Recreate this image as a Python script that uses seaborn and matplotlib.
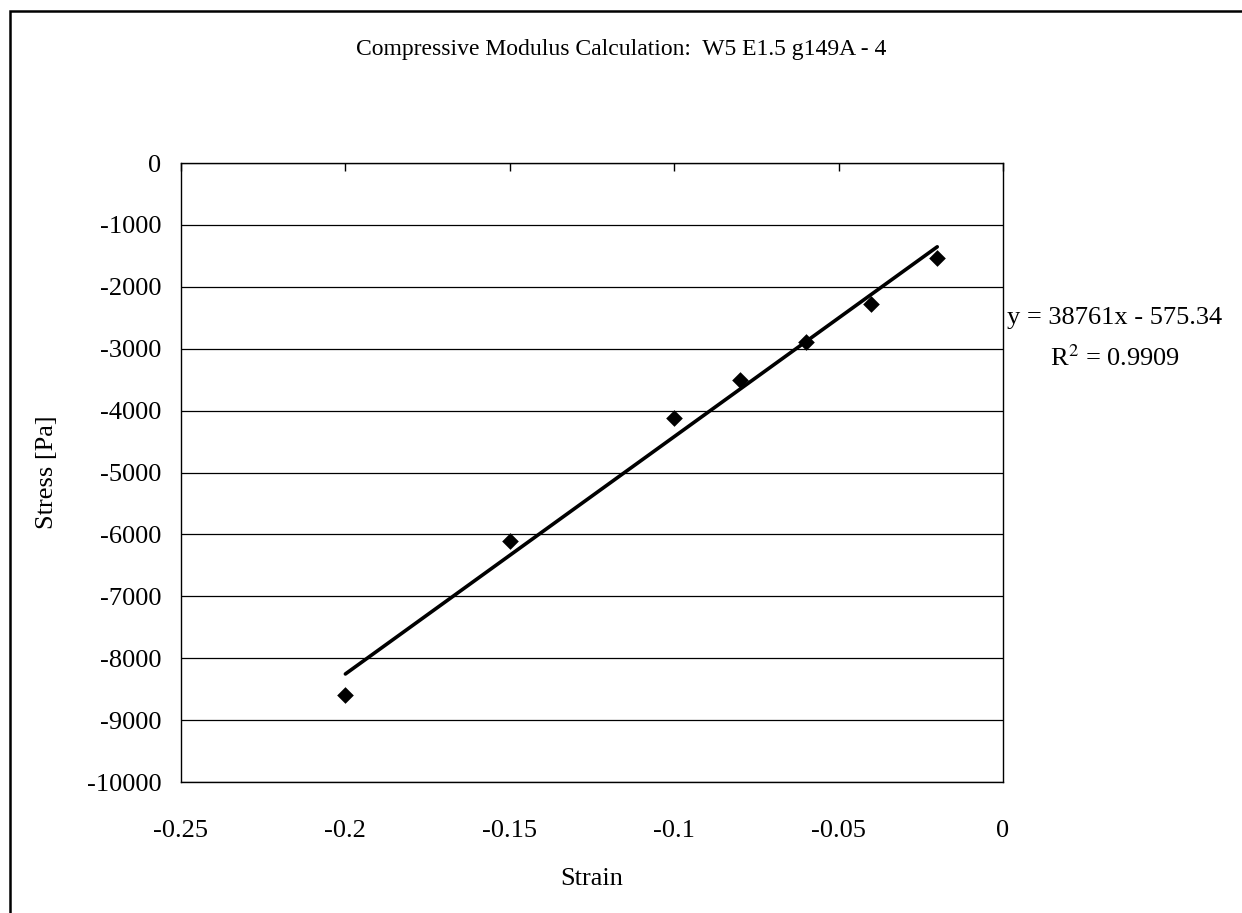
import numpy as np
import pandas as pd
import seaborn as sns
import matplotlib.pyplot as plt
from matplotlib.patches import Rectangle

# values
strain = [-0.20, -0.15, -0.10, -0.08, -0.06, -0.04, -0.02]
stress = [-8590, -6100, -4120, -3510, -2890, -2280, -1540]
x_ticks = [-0.25, -0.2, -0.15, -0.1, -0.05, 0]
x_labels = ["-0.25", "-0.2", "-0.15", "-0.1", "-0.05", "0"]
y_ticks = list(range(0, -10001, -1000))
fit_text = "y = 38761x - 575.34\nR$^2$ = 0.9909"
title = "Compressive Modulus Calculation:  W5 E1.5 g149A - 4"

df = pd.DataFrame({"Strain": strain, "Stress": stress})

sns.set_style("white")
plt.rcParams["font.family"] = ["Liberation Serif", "DejaVu Serif"]
plt.rcParams["mathtext.fontset"] = "stix"
plt.rcParams["text.color"] = "black"
plt.rcParams["axes.labelcolor"] = "black"
plt.rcParams["xtick.color"] = "black"
plt.rcParams["ytick.color"] = "black"

fig = plt.figure(figsize=(12.42, 9.13), dpi=100)
ax = fig.add_axes([181 / 1242, 1 - 782 / 913, 822 / 1242, 619 / 913])

# trendline (linear fit) and the data points
sns.regplot(data=df, x="Strain", y="Stress", ax=ax, ci=None, scatter=False,
            line_kws={"color": "black", "lw": 2.6})
sns.scatterplot(data=df, x="Strain", y="Stress", ax=ax, marker="D", s=72,
                color="black", linewidth=0, zorder=5)

ax.set_xlim(-0.25, 0)
ax.set_ylim(-10000, 0)
ax.set_xticks(x_ticks)
ax.set_xticklabels(x_labels)
ax.set_yticks(y_ticks)
ax.set_yticklabels([str(v) for v in y_ticks])

# horizontal gridlines only
ax.grid(axis="y", color="black", lw=0.9)
ax.grid(axis="x", visible=False)
for sp in ax.spines.values():
    sp.set_color("black")
    sp.set_linewidth(1.0)

# x axis crosses at y=0 -> ticks on top edge, labels low
ax.tick_params(axis="x", bottom=False, top=True, labelbottom=True, labeltop=False,
               direction="in", length=6, width=1, color="black", pad=27,
               labelsize=19)
ax.tick_params(axis="y", left=False, length=0, pad=14, labelsize=19)

ax.set_xlabel("Strain", fontsize=19, labelpad=19)
ax.set_ylabel("Stress [Pa]", fontsize=19, labelpad=21)

fig.text(621 / 1242, 1 - 50 / 913, title, ha="center", va="center", fontsize=17)
fig.text(1115 / 1242, 1 - 339 / 913, fit_text, ha="center", va="center",
         fontsize=19, linespacing=1.75)

# outer chart border (left and top edges visible)
fig.add_artist(Rectangle((10 / 1242, -0.1), 1.2, 1.1 - 11 / 913,
                         transform=fig.transFigure, fill=False,
                         edgecolor="black", lw=1.8))

plt.savefig("out.png", dpi=100)
